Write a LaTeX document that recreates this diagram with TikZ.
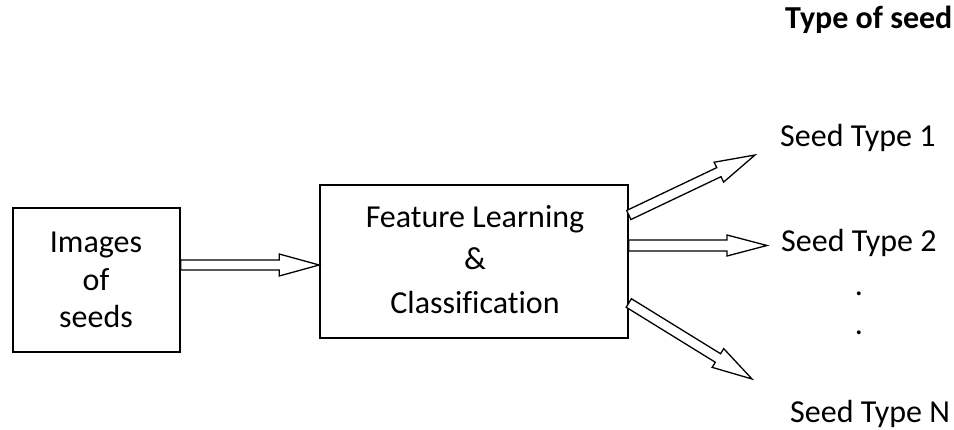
\documentclass[tikz,border=0pt]{standalone}
\usepackage{fontspec}
\setmainfont{Carlito}[Ligatures=NoCommon]
\usetikzlibrary{calc}
\tikzset{
  box/.style={draw, line width=1.6pt, inner sep=0pt},
  lbl/.style={inner sep=0pt, font=\fontsize{32}{38}\selectfont},
  hdr/.style={inner sep=0pt, font=\fontsize{32}{38}\selectfont\bfseries},
  hollow/.style={draw, line width=1.3pt, fill=white, line join=miter},
}
\newcommand\hollowarrow[4]{%
  \draw[hollow] let \p1=(#1), \p2=(#2),
    \n1={atan2(\y2-\y1,\x2-\x1)},
    \n2={veclen(\x2-\x1,\y2-\y1)-40} in
    ($(\p1)+(\n1+90:#3)$) -- ++(\n1:\n2) -- ++(\n1+90:#4) -- (\p2)
    -- ($(\p1)+(\n1:\n2)+(\n1-90:#3)+(\n1-90:#4)$) -- ++(\n1+90:#4)
    -- ($(\p1)+(\n1-90:#3)$) -- cycle;}
\begin{document}
\begin{tikzpicture}[x=1pt,y=1pt]
\useasboundingbox (0,0) rectangle (954,429);
% boxes
\node[box, minimum width=167pt, minimum height=144pt] (img) at (96.5,149) {};
\node[box, minimum width=308pt, minimum height=153pt] (fl) at (474,167.5) {};
% free ends
\coordinate (t1) at (755,274);
\coordinate (t2) at (767,183.5);
\coordinate (tn) at (752,50);
% arrows
\hollowarrow{img.east |- 0,164}{fl.west |- 0,164}{5}{6}
\hollowarrow{fl.east |- 0,214}{t1}{5}{6}
\hollowarrow{fl.east |- 0,183.5}{t2}{5.5}{5}
\hollowarrow{fl.east |- 0,126}{tn}{5}{6}
% box texts
\node[lbl, anchor=base] (i1) at (96,176) {Images};
\node[lbl, anchor=base] (i2) at (96,139) {of};
\node[lbl, anchor=base] (i3) at (96,101) {seeds};
\node[lbl, anchor=base] (f1) at (475,201) {Feature Learning};
\node[lbl, anchor=base] (f2) at (475,159) {\&};
\node[lbl, anchor=base] (f3) at (475,116) {Classification};
% outputs
\node[hdr, anchor=base west] (hd) at (785,400) {Type of seed};
\node[lbl, anchor=base west] (s1) at (780,282) {Seed Type 1};
\node[lbl, anchor=base west] (s2) at (781,177) {Seed Type 2};
\node[lbl, anchor=base] (d1) at (859,133.5) {.};
\node[lbl, anchor=base] (d2) at (859,94.5) {.};
\node[lbl, anchor=base west] (sn) at (790,7) {Seed Type N};
\end{tikzpicture}
\end{document}
